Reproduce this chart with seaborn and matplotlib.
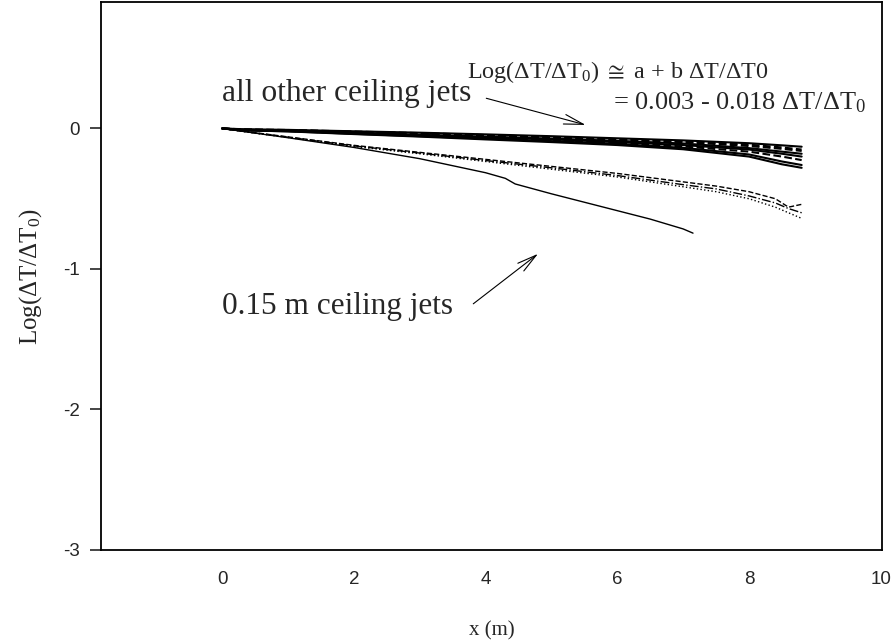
import numpy as np
import pandas as pd
import matplotlib
matplotlib.use("Agg")
import matplotlib.pyplot as plt
import seaborn as sns

# ---- data ----
x_upper = [0.0, 0.3, 1.0, 2.0, 3.0, 4.0, 5.0, 6.0, 7.0, 8.0, 8.5, 8.8]
upper_a = [0.0, -0.005, -0.010, -0.020, -0.030, -0.042, -0.055, -0.070, -0.085, -0.105, -0.120, -0.130]
upper_b = [0.0, -0.010, -0.012, -0.025, -0.038, -0.052, -0.066, -0.080, -0.097, -0.125, -0.145, -0.160]
upper_c = [0.0, -0.008, -0.015, -0.030, -0.045, -0.058, -0.072, -0.088, -0.107, -0.140, -0.165, -0.180]
upper_d = [0.0, -0.012, -0.016, -0.032, -0.048, -0.063, -0.078, -0.097, -0.118, -0.150, -0.180, -0.200]
upper_e = [0.0, -0.010, -0.018, -0.035, -0.050, -0.068, -0.083, -0.103, -0.128, -0.165, -0.200, -0.225]
upper_f = [0.0, -0.014, -0.020, -0.038, -0.055, -0.072, -0.090, -0.110, -0.138, -0.185, -0.235, -0.260]
upper_g = [0.0, -0.012, -0.021, -0.040, -0.058, -0.078, -0.097, -0.118, -0.148, -0.200, -0.255, -0.280]
upper_h = [0.0, -0.006, -0.011, -0.022, -0.033, -0.047, -0.061, -0.076, -0.092, -0.115, -0.135, -0.150]

x_lower = [0.0, 0.5, 1.0, 2.0, 3.0, 4.0, 5.0, 6.0, 7.0, 7.5, 8.0, 8.4, 8.6, 8.8]
lower_a = [0.0, -0.030, -0.060, -0.120, -0.170, -0.220, -0.270, -0.320, -0.380, -0.410, -0.450, -0.500, -0.560, -0.540]
lower_b = [0.0, -0.032, -0.062, -0.124, -0.175, -0.228, -0.280, -0.335, -0.400, -0.430, -0.480, -0.530, -0.570, -0.600]
lower_c = [0.0, -0.034, -0.064, -0.128, -0.180, -0.235, -0.290, -0.345, -0.415, -0.450, -0.500, -0.560, -0.600, -0.640]

x_short = [0.0, 0.5, 1.0, 2.0, 3.0, 4.0, 4.3, 4.45, 5.0, 5.5, 6.0, 6.5, 7.0, 7.15]
short_y = [0.0, -0.033, -0.066, -0.135, -0.215, -0.315, -0.355, -0.395, -0.465, -0.525, -0.585, -0.645, -0.715, -0.745]

upper_series = {"u_a": upper_a, "u_b": upper_b, "u_c": upper_c, "u_d": upper_d,
                "u_e": upper_e, "u_f": upper_f, "u_g": upper_g, "u_h": upper_h}
lower_series = {"l_a": lower_a, "l_b": lower_b, "l_c": lower_c}

x_ticks = [0, 2, 4, 6, 8, 10]
y_ticks = [0, -1, -2, -3]

rows = []
for name, ys in upper_series.items():
    for xv, yv in zip(x_upper, ys):
        rows.append((name, xv, yv))
for name, ys in lower_series.items():
    for xv, yv in zip(x_lower, ys):
        rows.append((name, xv, yv))
for xv, yv in zip(x_short, short_y):
    rows.append(("short", xv, yv))
df = pd.DataFrame(rows, columns=["series", "x", "y"])

styles = {"u_a": "-", "u_b": "--", "u_c": "-", "u_d": "-", "u_e": "--", "u_f": "-",
          "u_g": "-", "u_h": "--", "l_a": "--", "l_b": "-.", "l_c": ":", "short": "-"}
widths = {k: (1.5 if k.startswith("u_") else 1.0) for k in styles}

# ---- figure ----
sns.set_style("white")
plt.rcParams["font.family"] = ["Liberation Sans", "DejaVu Sans"]
plt.rcParams["axes.unicode_minus"] = False
plt.rcParams["mathtext.fontset"] = "custom"
plt.rcParams["mathtext.rm"] = "Liberation Serif"
plt.rcParams["mathtext.it"] = "Liberation Serif:italic"
plt.rcParams["mathtext.bf"] = "Liberation Serif:bold"
plt.rcParams["mathtext.fallback"] = "stix"

fig = plt.figure(figsize=(8.96, 6.44), dpi=100)
ax = fig.add_axes([101 / 896, 1 - 550 / 644, (882 - 101) / 896, (550 - 2) / 644])

for name, sub in df.groupby("series", sort=False):
    sns.lineplot(data=sub, x="x", y="y", ax=ax, color="black",
                 linewidth=widths[name], linestyle=styles[name], estimator=None, sort=False)

ax.set_xlim(-1.84, 10.02)
ax.set_ylim(-3, 0.9)
ax.set_xticks(x_ticks)
ax.set_yticks(y_ticks)
ax.tick_params(axis="x", length=0, pad=15, labelsize=13.5)
ax.tick_params(axis="y", length=8, width=1.2, pad=7, labelsize=13.5, left=True)
for s in ax.spines.values():
    s.set_color("black")
    s.set_linewidth(1.3)

serif = ["Liberation Serif", "DejaVu Serif"]
ax.set_xlabel("x (m)", family=serif, fontsize=15, labelpad=24)
ax.set_ylabel(r"Log($\Delta$T/$\Delta$T$_0$)", family=serif, fontsize=18, labelpad=14)

ax.text(0.0, 0.25, "all other ceiling jets", family=serif, fontsize=22.7, va="center", ha="left")
ax.annotate("", xy=(5.56, 0.02), xytext=(3.97, 0.22),
            arrowprops=dict(arrowstyle="->,head_length=1.4,head_width=0.35", color="black", lw=0.8))
ax.text(3.72, 0.40, r"Log($\Delta$T/$\Delta$T$_0$) $\cong$ a + b $\Delta$T/$\Delta$T0",
        family=serif, fontsize=17.4, va="center", ha="left")
ax.text(5.93, 0.18, r"= 0.003 - 0.018 $\Delta$T/$\Delta$T$_0$", family=serif, fontsize=19,
        va="center", ha="left")

ax.text(0.0, -1.27, "0.15 m ceiling jets", family=serif, fontsize=22.5, va="center", ha="left")
ax.annotate("", xy=(4.83, -0.88), xytext=(3.78, -1.26),
            arrowprops=dict(arrowstyle="->,head_length=1.4,head_width=0.35", color="black", lw=0.8))

fig.savefig("out.png", dpi=100)
